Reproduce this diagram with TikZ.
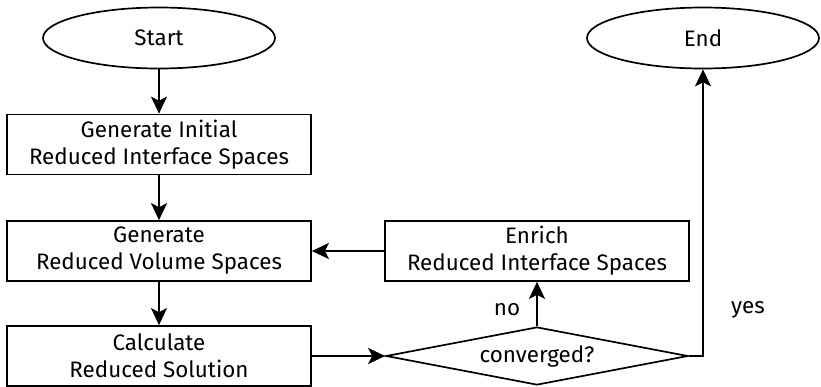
\documentclass[tikz,border=0pt]{standalone}
\usepackage{fontspec}
\setmainfont{Fira Sans}
\usetikzlibrary{shapes.geometric,arrows.meta}
\begin{document}
\begin{tikzpicture}[x=1pt,y=-1pt,
  every node/.style={font=\fontsize{22.4}{27}\selectfont, align=center, inner sep=0pt},
  box/.style={draw, line width=1.7pt, rectangle, minimum width=304pt, minimum height=60pt},
  term/.style={draw, line width=1.7pt, ellipse, minimum width=232pt, minimum height=61pt},
  decide/.style={draw, line width=1.7pt, diamond, aspect=5.2, minimum width=302pt, minimum height=58pt},
  conn/.style={line width=1.7pt, -{Stealth[length=17pt,width=16pt,inset=4pt]}},
  lbl/.style={font=\fontsize{22.4}{26}\selectfont}]
\useasboundingbox (0,0) rectangle (821,386);
\node[term] (start) at (159,38) {Start};
\node[term] (end) at (703,38) {End};
\node[box] (b1) at (159,144.5) {Generate Initial\\Reduced Interface Spaces};
\node[box] (b2) at (159,251) {Generate\\Reduced Volume Spaces};
\node[box] (b3) at (159,356) {Calculate\\Reduced Solution};
\node[box] (enrich) at (537,251) {Enrich\\Reduced Interface Spaces};
\node[decide] (dia) at (537,356) {converged?};
\node[lbl] (no) at (507,310) {no};
\node[lbl] (yes) at (748,310) {yes};
\draw[conn] (start) -- (b1);
\draw[conn] (b1) -- (b2);
\draw[conn] (b2) -- (b3);
\draw[conn] (b3) -- (dia);
\draw[conn] (dia) -- (enrich);
\draw[conn] (enrich) -- (b2);
\draw[conn] (dia.east) -| (end.south);
\end{tikzpicture}
\end{document}
